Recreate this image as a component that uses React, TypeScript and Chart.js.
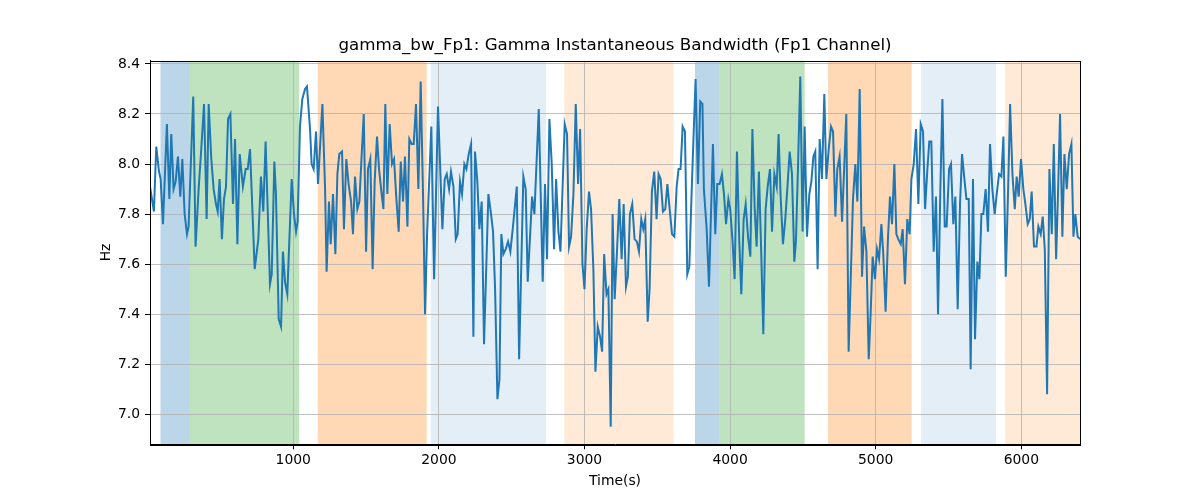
import React, { useEffect, useRef } from "react";
import { Chart, registerables } from "chart.js";
Chart.register(...registerables);

const chartTitle = "gamma_bw_Fp1: Gamma Instantaneous Bandwidth (Fp1 Channel)";
const xLabel = "Time(s)";
const yLabel = "Hz";

const times = [
  16, 43, 59, 78, 89, 105, 132, 149, 162, 178, 192, 208, 224, 238, 254, 270, 281, 313, 329, 350,
  368, 387, 405, 419, 437, 453, 469, 481, 494, 510, 524, 538, 552, 568, 586, 600, 616, 632, 654, 673,
  687, 703, 735, 760, 778, 794, 810, 840, 852, 870, 881, 900, 916, 929, 943, 959, 989, 1005, 1019, 1030,
  1046, 1062, 1081, 1094, 1115, 1126, 1140, 1156, 1170, 1200, 1218, 1229, 1245, 1257, 1273, 1289, 1303, 1316, 1335, 1348,
  1364, 1380, 1397, 1410, 1424, 1440, 1454, 1470, 1484, 1500, 1513, 1529, 1545, 1559, 1575, 1589, 1605, 1619, 1632, 1646,
  1662, 1678, 1692, 1706, 1724, 1738, 1754, 1767, 1784, 1797, 1813, 1827, 1843, 1859, 1875, 1891, 1905, 1919, 1948, 1967,
  1994, 2024, 2040, 2054, 2070, 2083, 2100, 2116, 2129, 2145, 2159, 2175, 2189, 2205, 2221, 2237, 2248, 2264, 2278, 2294,
  2310, 2340, 2356, 2372, 2386, 2402, 2416, 2429, 2443, 2459, 2475, 2491, 2507, 2535, 2551, 2580, 2596, 2610, 2640, 2656,
  2686, 2713, 2729, 2743, 2759, 2775, 2791, 2805, 2821, 2835, 2864, 2880, 2894, 2908, 2924, 2940, 2956, 2970, 2986, 3000,
  3015, 3031, 3045, 3061, 3075, 3091, 3107, 3121, 3135, 3151, 3164, 3180, 3193, 3207, 3223, 3239, 3255, 3269, 3285, 3298,
  3312, 3328, 3344, 3360, 3374, 3390, 3404, 3417, 3434, 3447, 3463, 3479, 3495, 3509, 3523, 3539, 3555, 3569, 3585, 3601,
  3617, 3633, 3646, 3660, 3674, 3690, 3706, 3720, 3736, 3749, 3763, 3779, 3795, 3810, 3820, 3839, 3855, 3882, 3898, 3912,
  3928, 3944, 3958, 3972, 3988, 4001, 4017, 4031, 4047, 4063, 4077, 4093, 4107, 4123, 4139, 4153, 4169, 4182, 4198, 4214,
  4228, 4244, 4258, 4274, 4288, 4304, 4320, 4333, 4347, 4363, 4379, 4395, 4409, 4425, 4441, 4452, 4466, 4482, 4498, 4512,
  4528, 4544, 4558, 4572, 4585, 4601, 4615, 4631, 4647, 4661, 4677, 4693, 4707, 4723, 4736, 4752, 4769, 4798, 4814, 4844,
  4860, 4874, 4890, 4906, 4920, 4936, 4952, 4965, 4979, 4995, 5009, 5023, 5039, 5052, 5068, 5084, 5098, 5112, 5128, 5142,
  5155, 5172, 5185, 5201, 5217, 5233, 5245, 5261, 5277, 5293, 5309, 5325, 5339, 5355, 5368, 5382, 5398, 5414, 5428, 5444,
  5458, 5474, 5487, 5504, 5517, 5533, 5547, 5563, 5579, 5593, 5609, 5623, 5639, 5652, 5668, 5682, 5698, 5712, 5726, 5739,
  5755, 5771, 5785, 5801, 5817, 5831, 5847, 5863, 5877, 5893, 5909, 5923, 5939, 5955, 5968, 5982, 5998, 6014, 6028, 6044,
  6058, 6071, 6087, 6104, 6117, 6133, 6147, 6161, 6177, 6193, 6209, 6223, 6239, 6252, 6266, 6282, 6296, 6312, 6328, 6344,
  6358, 6371, 6387, 6403,
];

const values = [
  7.91, 7.81, 8.07, 7.97, 7.94, 7.76, 8.16, 7.86, 8.12, 7.90, 7.93, 8.03, 7.87, 8.02, 7.80, 7.72, 7.75, 8.27, 7.67, 7.90,
  8.06, 8.24, 7.78, 8.24, 8.02, 7.90, 7.84, 7.81, 7.94, 7.70, 7.86, 7.91, 8.18, 8.20, 7.84, 8.10, 7.68, 8.04, 7.91, 7.98,
  7.98, 8.06, 7.58, 7.70, 7.95, 7.81, 8.09, 7.52, 7.56, 8.01, 7.88, 7.38, 7.35, 7.65, 7.53, 7.48, 7.94, 7.80, 7.73, 7.77,
  8.15, 8.26, 8.30, 8.31, 8.14, 8.00, 7.98, 8.13, 7.92, 8.24, 7.91, 7.57, 7.85, 7.68, 7.88, 7.64, 7.96, 8.04, 8.05, 7.74,
  8.02, 7.92, 7.85, 7.72, 7.95, 7.82, 7.85, 8.04, 8.20, 7.65, 7.98, 8.02, 7.58, 7.93, 8.11, 7.98, 7.89, 7.82, 8.24, 7.88,
  8.16, 8.00, 8.02, 7.88, 7.73, 8.01, 7.85, 8.03, 7.75, 8.10, 8.08, 8.08, 8.24, 7.90, 8.33, 7.88, 7.40, 7.72, 8.15, 7.54,
  8.23, 7.74, 7.94, 7.96, 7.90, 7.97, 7.91, 7.70, 7.72, 7.93, 7.88, 8.00, 7.98, 8.04, 8.08, 7.31, 8.05, 7.93, 7.74, 7.85,
  7.28, 7.88, 7.81, 7.73, 7.50, 7.06, 7.14, 7.72, 7.64, 7.66, 7.69, 7.65, 7.74, 7.91, 7.22, 7.95, 7.90, 7.53, 7.87, 7.80,
  8.22, 7.53, 7.92, 7.62, 8.18, 8.00, 7.66, 7.94, 7.73, 7.65, 8.16, 8.12, 7.67, 7.71, 7.88, 8.24, 7.92, 8.14, 7.60, 7.50,
  7.74, 7.89, 7.82, 7.58, 7.17, 7.35, 7.31, 7.25, 7.64, 7.48, 7.50, 6.95, 7.80, 7.46, 7.65, 7.86, 7.62, 7.84, 7.51, 7.55,
  7.80, 7.84, 7.70, 7.69, 7.65, 7.78, 7.74, 7.78, 7.37, 7.50, 7.89, 7.97, 7.78, 7.96, 7.94, 7.81, 7.82, 7.92, 7.82, 7.72,
  7.71, 7.91, 7.98, 7.98, 8.15, 8.13, 7.56, 7.59, 7.89, 8.11, 8.34, 7.92, 8.25, 8.24, 7.90, 7.74, 7.51, 8.08, 7.72, 7.92,
  7.92, 7.96, 7.88, 7.76, 7.86, 7.82, 7.69, 7.54, 8.05, 7.69, 7.48, 7.78, 7.84, 7.71, 7.63, 8.14, 7.82, 7.67, 7.97, 7.64,
  7.32, 7.82, 7.91, 7.98, 7.73, 7.96, 7.91, 8.12, 7.87, 7.68, 7.78, 7.92, 8.05, 7.96, 7.61, 7.69, 7.98, 8.35, 7.73, 8.15,
  7.71, 7.88, 7.93, 8.03, 8.05, 7.58, 8.10, 7.94, 8.28, 7.94, 8.06, 8.15, 8.13, 7.79, 7.98, 8.03, 7.77, 8.20, 7.25, 7.86,
  8.00, 7.85, 8.30, 7.55, 7.75, 7.65, 7.22, 7.40, 7.63, 7.54, 7.66, 7.62, 7.76, 7.64, 7.41, 7.70, 7.87, 7.76, 8.00, 7.72,
  7.70, 7.68, 7.74, 7.52, 7.78, 7.72, 7.94, 8.00, 8.14, 7.84, 8.16, 8.13, 7.82, 7.98, 8.09, 8.09, 7.65, 7.87, 7.40, 7.90,
  8.26, 7.75, 7.75, 7.98, 8.00, 7.76, 7.87, 7.42, 7.84, 8.04, 7.94, 7.86, 7.86, 7.18, 7.94, 7.30, 7.61, 7.54, 7.80, 7.80,
  7.90, 7.73, 8.08, 7.90, 7.80, 7.88, 7.96, 7.95, 8.11, 7.55, 7.89, 8.24, 7.96, 7.82, 7.95, 7.87, 8.02, 7.90, 7.84, 7.76,
  7.78, 7.89, 7.67, 7.67, 7.75, 7.72, 7.79, 7.66, 7.08, 7.98, 7.72, 8.08, 7.62, 7.88, 8.20, 7.71, 8.04, 7.90, 8.04, 8.08,
  7.71, 7.80, 7.71, 7.70,
];

const spanStarts = [88, 284, 1168, 1944, 2861, 3759, 3926, 4672, 5311, 5889];
const spanEnds = [284, 1041, 1916, 2736, 3612, 3926, 4512, 5247, 5826, 6403];
const spanColors = [
  "rgba(31,119,180,0.3)",
  "rgba(44,160,44,0.3)",
  "rgba(255,127,14,0.3)",
  "rgba(31,119,180,0.12)",
  "rgba(255,127,14,0.16)",
  "rgba(31,119,180,0.3)",
  "rgba(44,160,44,0.3)",
  "rgba(255,127,14,0.3)",
  "rgba(31,119,180,0.12)",
  "rgba(255,127,14,0.16)",
];

const xTicks = [1000, 2000, 3000, 4000, 5000, 6000];
const yTicks = [7.0, 7.2, 7.4, 7.6, 7.8, 8.0, 8.2, 8.4];
const yMin = 6.88;
const yMax = 8.413;

const FONT = "DejaVu Sans";

export default function App() {
  const ref = useRef<HTMLCanvasElement | null>(null);

  useEffect(() => {
    document.body.style.margin = "0";
    const canvas = ref.current;
    if (!canvas) return;

    const spanPlugin = {
      id: "spans",
      beforeDraw(chart: any) {
        const { ctx, chartArea, scales } = chart;
        ctx.save();
        ctx.beginPath();
        ctx.rect(chartArea.left, chartArea.top, chartArea.right - chartArea.left, chartArea.bottom - chartArea.top);
        ctx.clip();
        for (let i = 0; i < spanStarts.length; i++) {
          const x0 = scales.x.getPixelForValue(spanStarts[i]);
          const x1 = scales.x.getPixelForValue(spanEnds[i]);
          ctx.fillStyle = spanColors[i];
          ctx.fillRect(x0, chartArea.top, x1 - x0, chartArea.bottom - chartArea.top);
        }
        ctx.restore();
      },
      afterDraw(chart: any) {
        const { ctx, chartArea } = chart;
        ctx.save();
        ctx.strokeStyle = "#000";
        ctx.lineWidth = 1;
        ctx.strokeRect(
          Math.round(chartArea.left) + 0.5,
          Math.round(chartArea.top) + 0.5,
          Math.round(chartArea.right - chartArea.left),
          Math.round(chartArea.bottom - chartArea.top)
        );
        ctx.fillStyle = "#000";
        ctx.font = `16.7px "${FONT}"`;
        ctx.textAlign = "center";
        ctx.textBaseline = "middle";
        ctx.fillText(chartTitle, (chartArea.left + chartArea.right) / 2, 46);
        ctx.restore();
      },
    };

    const chart = new Chart(canvas, {
      type: "line",
      data: {
        datasets: [
          {
            data: times.map((t, i) => ({ x: t, y: values[i] })),
            borderColor: "#1f77b4",
            borderWidth: 2,
            pointRadius: 0,
            tension: 0,
            fill: false,
          },
        ],
      },
      options: {
        animation: false,
        responsive: false,
        devicePixelRatio: 1,
        layout: { padding: { left: 90, right: 120, top: 60.7, bottom: 0 } },
        plugins: {
          legend: { display: false },
          tooltip: { enabled: false },
          title: { display: false },
        },
        scales: {
          x: {
            type: "linear",
            min: times[0],
            max: times[times.length - 1],
            afterBuildTicks: (s: any) => {
              s.ticks = xTicks.map((v) => ({ value: v }));
            },
            afterFit: (s: any) => {
              s.height = 55.7;
            },
            grid: { color: "#b0b0b0", lineWidth: 0.8, tickLength: 5, tickColor: "#000", tickWidth: 1 },
            border: { color: "#000", width: 1 },
            ticks: {
              color: "#000",
              font: { family: FONT, size: 13.9 },
              padding: 3,
              maxRotation: 0,
              autoSkip: false,
              callback: (v: any) => String(v),
            },
            title: {
              display: true,
              text: xLabel,
              color: "#000",
              font: { family: FONT, size: 13.9 },
              padding: { top: 0, bottom: 10.7 },
            },
          },
          y: {
            type: "linear",
            min: yMin,
            max: yMax,
            afterBuildTicks: (s: any) => {
              s.ticks = yTicks.map((v) => ({ value: v }));
            },
            afterFit: (s: any) => {
              s.width = 60;
            },
            grid: { color: "#b0b0b0", lineWidth: 0.8, tickLength: 5, tickColor: "#000", tickWidth: 1 },
            border: { color: "#000", width: 1 },
            ticks: {
              color: "#000",
              font: { family: FONT, size: 13.9 },
              padding: 5,
              autoSkip: false,
              callback: (v: any) => Number(v).toFixed(1),
            },
            title: {
              display: true,
              text: yLabel,
              color: "#000",
              font: { family: FONT, size: 13.9 },
              padding: { top: 7.7, bottom: 0 },
            },
          },
        },
      },
      plugins: [spanPlugin],
    });

    return () => chart.destroy();
  }, []);

  return (
    <div style={{ width: 1200, height: 500, position: "relative" }}>
      <canvas ref={ref} width={1200} height={500} style={{ display: "block" }} />
    </div>
  );
}
